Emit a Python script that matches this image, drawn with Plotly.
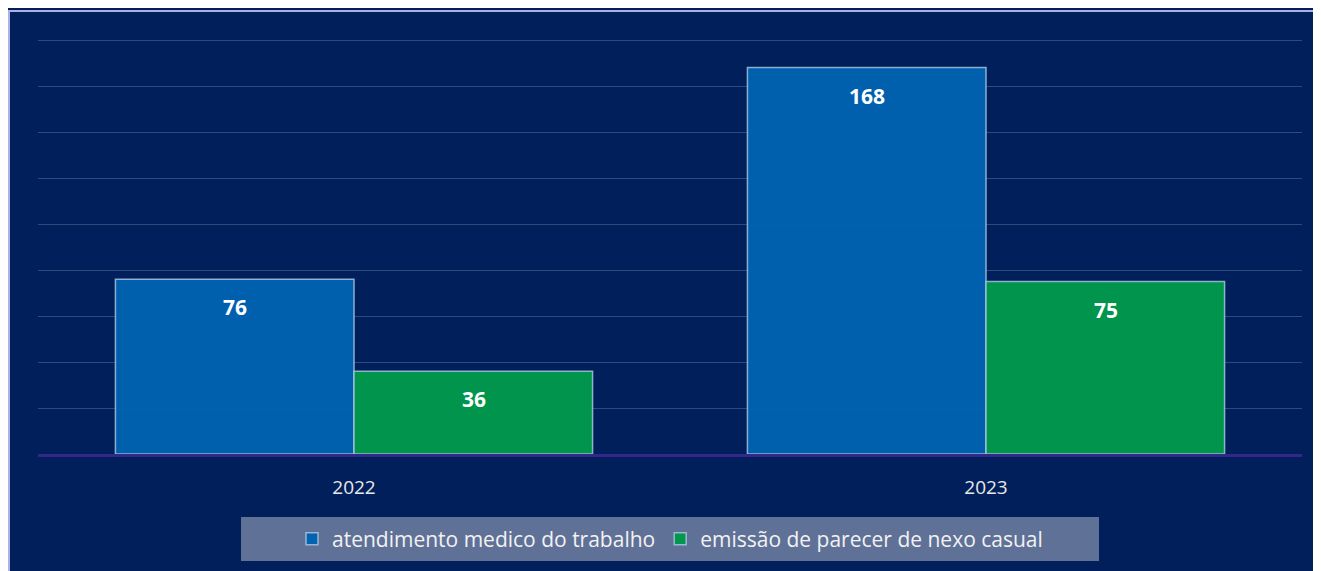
import plotly.graph_objects as go

categories = ["2022", "2023"]
atendimento = [76, 168]
emissao = [36, 75]
series_names = ["atendimento medico do trabalho", "emissão de parecer de nexo casual"]

BG = "#001F5B"
BLUE = "#0063B1"
GREEN = "#00984C"
EDGE = "rgba(170,200,225,0.85)"

PH = 416  # plot-area height in px
fig = go.Figure()
fig.add_trace(go.Bar(x=categories, y=atendimento, name=series_names[0],
                     marker=dict(color=BLUE, line=dict(color=EDGE, width=1.5)),
                     opacity=0.97))
fig.add_trace(go.Bar(x=categories, y=emissao, name=series_names[1],
                     marker=dict(color=GREEN, line=dict(color=EDGE, width=1.5)),
                     opacity=0.97))

# value labels inside bars near the top (x given as category index)
for i, cat in enumerate(categories):
    for xshift_sign, vals in ((-1, atendimento), (1, emissao)):
        fig.add_annotation(x=i, y=vals[i], text=f"<b>{vals[i]}</b>", showarrow=False,
                           xref="x", yref="y", xshift=xshift_sign * 119.5, yshift=-28,
                           font=dict(family="Open Sans", size=21, color="white"))

fig.update_layout(
    width=1313, height=563,
    paper_bgcolor=BG, plot_bgcolor=BG,
    margin=dict(l=30, r=19, t=30, b=117, autoexpand=False),
    barmode="group", bargap=0.245, bargroupgap=0,
    showlegend=True,
    legend=dict(orientation="h", x=0.5, xanchor="center", y=-85 / PH, yanchor="middle",
                bgcolor="rgba(0,0,0,0)", font=dict(family="Open Sans", size=21, color="#F2F2F2"),
                itemwidth=30, traceorder="normal"),
    xaxis=dict(type="category", showgrid=False, range=[-0.5, 1.5],
               tickfont=dict(family="Open Sans", size=19, color="#E8E8E8"),
               ticklabelstandoff=14,
               showline=True, linecolor="#33288A", linewidth=3, ticks="", ticklen=0),
    yaxis=dict(range=[0, 180 * PH / 414], dtick=20, showticklabels=False, showline=False,
               gridcolor="rgba(110,130,170,0.42)", gridwidth=1, zeroline=False),
    shapes=[
        dict(type="rect", xref="paper", yref="paper", x0=-0.02294, x1=1.05,
             y0=443 / PH, y1=-0.4,
             line=dict(color="#B0B0E8", width=2), fillcolor="rgba(0,0,0,0)", layer="below"),
        dict(type="rect", xref="paper", yref="paper", x0=(241 - 38) / 1264, x1=(1099 - 38) / 1264,
             y0=-63 / PH, y1=-107 / PH,
             line=dict(width=0), fillcolor="#5F7197", layer="below"),
    ],
)

fig.write_html("out.html")
